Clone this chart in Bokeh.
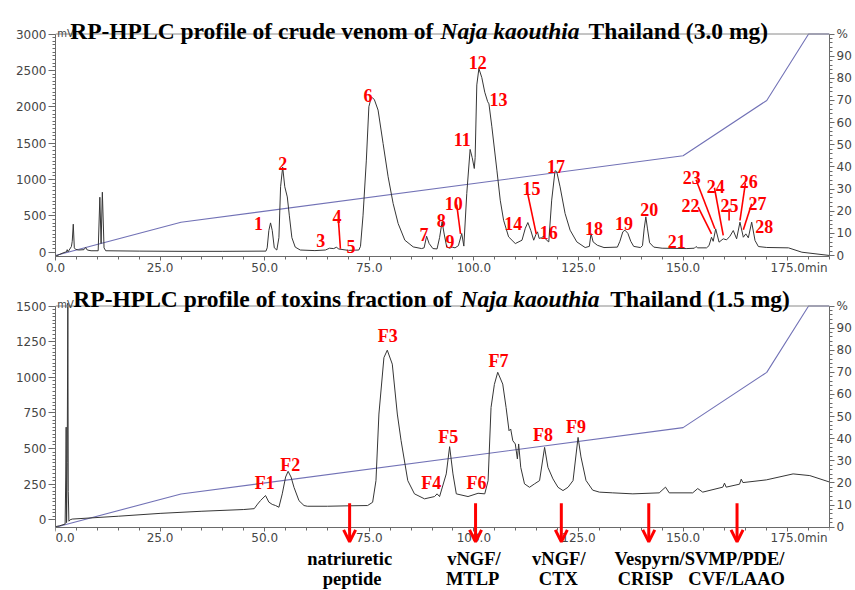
from bokeh.plotting import figure
from bokeh.models import (Range1d, LinearAxis, FixedTicker, NumeralTickFormatter, Label, Arrow, OpenHead, Span)
from bokeh.layouts import column
from bokeh.embed import file_html
from bokeh.resources import INLINE
from bokeh.core.properties import value

# ---------------- data ----------------
top_t = [0.0, 1.0, 2.0, 2.6, 2.8, 3.0, 3.8, 4.0, 4.25, 4.5, 4.8, 5.5, 6.8, 7.2, 7.6, 8.5, 10.2, 10.6, 10.9, 11.2,
         11.6, 12.0, 20.0, 30.0, 40.0, 50.3, 50.6, 51.0, 51.4, 51.8, 52.3, 52.9, 53.4, 53.8, 54.3, 54.8, 55.4, 55.9,
         56.5, 57.3, 58.5, 62.0, 64.5, 65.5, 66.5, 67.2, 67.6, 70.0, 72.5, 72.9, 73.5, 74.3, 74.9, 75.5, 76.2, 77.1,
         78.3, 79.5, 80.7, 81.9, 83.5, 85.5, 87.5, 88.1, 88.7, 89.3, 90.2, 91.2, 91.8, 92.4, 92.9, 93.5, 94.2, 94.8,
         95.5, 96.3, 97.1, 97.6, 98.3, 99.1, 99.6, 100.1, 100.3, 100.7, 101.2, 101.9, 102.6, 103.3, 103.6, 104.3,
         105.5, 106.3, 107.1, 108.3, 109.9, 111.5, 112.3, 112.9, 113.6, 114.3, 114.8, 115.2, 115.6, 116.2, 116.7,
         117.3, 117.9, 118.6, 119.4, 119.8, 120.6, 121.8, 123.0, 124.6, 126.6, 127.6, 128.0, 128.5, 129.5, 131.1,
         134.3, 134.9, 135.6, 136.1, 136.8, 137.5, 138.2, 139.8, 140.3, 140.7, 141.1, 141.5, 142.0, 143.0, 145.0,
         150.9, 152.7, 153.1, 153.5, 155.6, 156.2, 156.8, 157.2, 157.8, 158.6, 159.6, 160.4, 161.2, 162.0, 162.8,
         163.6, 164.4, 165.0, 165.6, 166.4, 167.2, 168.0, 170.0, 175.2, 178.4, 185.0]
top_mv = [-55, -30, -5, 5, 35, 5, 78, 150, 385, 60, 40, 30, 35, 65, 30, 20, 20, 756, 120, 825,
          60, 20, 15, 12, 12, 15, 60, 300, 403, 300, 60, 30, 200, 900, 1170, 900, 760, 500,
          200, 70, 30, 22, 30, 55, 50, 70, 45, 25, 30, 80, 500, 1266, 2000, 2135, 2100, 1954,
          1495, 1037, 670, 394, 165, 73, 50, 60, 220, 120, 50, 45, 200, 417, 250, 73, 55, 70,
          60, 90, 257, 84, 807, 1413, 1300, 1151, 1300, 2300, 2525, 2400, 2200, 2069, 2040, 1724,
          1128, 715, 440, 211, 119, 165, 330, 408, 300, 165, 240, 280, 190, 200, 220,
          170, 142, 716, 1120, 1110, 899, 532, 303, 142, 64, 80, 257, 142, 96, 64,
          70, 150, 280, 303, 260, 150, 80, 64, 90, 320, 486, 320, 130, 70, 55,
          50, 55, 78, 60, 60, 90, 206, 150, 321, 138, 184, 170, 220, 298, 184,
          413, 206, 252, 198, 413, 161, 78, 65, 60, 0, -45]

bot_t = [0.0, 1.0, 2.3, 2.45, 2.55, 2.65, 2.8, 2.95, 3.05, 3.2, 3.5, 4.0, 15.0, 25.0, 35.0, 45.0, 47.5, 48.3, 49.0,
         50.2, 51.0, 51.8, 52.6, 53.4, 54.2, 55.0, 55.6, 56.3, 57.0, 58.2, 59.4, 60.2, 65.0, 70.0, 74.6, 75.8, 76.6,
         77.3, 78.5, 79.3, 80.5, 81.7, 82.6, 84.2, 85.8, 88.2, 90.6, 91.2, 91.8, 93.4, 94.2, 95.0, 95.8, 98.6, 101.0,
         102.6, 103.4, 104.1, 104.9, 105.7, 106.9, 107.7, 108.4, 108.8, 109.3, 109.9, 110.4, 110.7, 111.2, 112.1,
         113.3, 114.5, 115.7, 116.9, 117.7, 118.9, 120.1, 121.3, 122.5, 123.7, 124.9, 125.6, 126.8, 128.4, 130.0,
         133.2, 138.0, 144.3, 145.8, 146.7, 152.3, 153.5, 154.7, 159.5, 159.9, 160.3, 163.5, 163.9, 164.3, 169.9,
         176.3, 180.3, 185.0]
bot_mv = [-48, -42, -30, 300, 650, -20, 400, 1520, 200, -10, 0, 5, 25, 45, 60, 72, 78, 110, 135,
          170, 124, 108, 100, 88, 182, 300, 340, 300, 228, 134, 100, 95, 95, 98, 100, 123, 275,
          742, 1138, 1190, 1092, 742, 555, 275, 182, 147, 163, 182, 163, 322, 513, 322, 182, 163, 186,
          182, 275, 788, 950, 1035, 952, 788, 625, 637, 555, 532, 427, 532, 368, 252,
          228, 252, 275, 508, 368, 287, 228, 205, 228, 275, 578, 441, 276, 208, 194,
          189, 182, 189, 229, 189, 189, 219, 194, 229, 257, 229, 250, 285, 261, 280,
          322, 310, 265]

grad_t = [0, 30, 150, 170, 180, 185]
grad_pct = [0, 15, 45, 70, 100, 100]

top_labels = [str(i) for i in range(1, 29)]
top_label_t = [48.5, 54.3, 63.4, 67.3, 70.6, 74.7, 88.1, 92.2, 94.3, 95.2, 97.2, 100.9, 105.9, 109.4, 113.8,
               117.9, 119.6, 128.7, 135.9, 141.9, 148.5, 151.8, 152.1, 157.8, 161.1, 165.7, 167.8, 169.4]
top_label_mv = [395, 1220, 161, 491, 78, 2155, 243, 436, 154, 674, 1546, 2613, 2096, 399, 872,
                275, 1178, 322, 391, 583, 151, 642, 1031, 903, 642, 976, 674, 353]

# leader lines for labels 4, 10, 15, 22, 23, 24, 25, 26, 27
lead_t0 = [67.6, 95.9, 112.7, 153.6, 153.1, 157.5, 161.0, 164.9, 166.4]
lead_mv0 = [459, 656, 848, 619, 996, 886, 597, 949, 666]
lead_t1 = [68.1, 96.8, 114.9, 156.8, 157.6, 159.6, 161.0, 163.6, 164.4]
lead_mv1 = [47, 253, 253, 253, 322, 230, 436, 436, 308]

bot_labels = ["F1", "F2", "F3", "F4", "F5", "F6", "F7", "F8", "F9"]
bot_label_t = [50.0, 56.1, 79.4, 89.8, 93.9, 100.6, 105.9, 116.5, 124.4]
bot_label_mv = [256, 387, 1290, 259, 578, 256, 1115, 597, 648]

arrow_t = [70.3, 100.4, 120.9, 141.8, 162.9]
note1_text = ["natriuretic", "vNGF/", "vNGF/", "Vespyrn/SVMP/PDE/"]
note1_t = [70.3, 100.0, 120.3, 153.9]
note2_text = ["peptide", "MTLP", "CTX", "CRISP", "CVF/LAAO"]
note2_t = [70.9, 99.7, 120.2, 141.0, 162.8]

x_ticks = [0, 25, 50, 75, 100, 125, 150, 175]

# ---------------- styling / geometry ----------------
TRACE = "#363636"
GRAD = "#7272b6"
AXC = "#6a6a6a"
SERIF = "Liberation Serif"
W_LEFT, FRAME_W, W_RIGHT = 55, 774, 26
NB = "\u00a0"


def style_axis(ax, tick_out=6, standoff=2):
    ax.major_label_text_font = "DejaVu Sans"
    ax.major_label_text_font_size = "12px"
    ax.major_label_text_color = "#454545"
    ax.axis_line_color = AXC
    ax.major_tick_line_color = AXC
    ax.minor_tick_line_color = AXC
    ax.major_tick_in = 0
    ax.minor_tick_in = 0
    ax.major_tick_out = tick_out
    ax.minor_tick_out = 3
    ax.major_label_standoff = standoff


def make_panel(frame_h, ytop_row, ytop_val, axis_row, axis_val, pct0_row, pct100_row,
               ystep, yminor, bottom_border):
    """Frame rows 0..frame_h. mV value ytop_val sits at row ytop_row, the time axis (value axis_val)
    at row axis_row; the % scale has 0 at pct0_row and 100 at pct100_row."""
    mv_per_px = (ytop_val - axis_val) / (axis_row - ytop_row)
    y_hi = ytop_val + ytop_row * mv_per_px
    y_lo = axis_val - (frame_h - axis_row) * mv_per_px
    pct_per_px = 100.0 / (pct0_row - pct100_row)
    pct_hi = 100 + pct100_row * pct_per_px
    pct_lo = -(frame_h - pct0_row) * pct_per_px
    pct_axis = -(axis_row - pct0_row) * pct_per_px
    p = figure(frame_width=FRAME_W, frame_height=frame_h, min_border_left=W_LEFT, min_border_right=W_RIGHT,
               min_border_top=0, min_border_bottom=bottom_border,
               x_range=Range1d(0, 185), y_range=Range1d(y_lo, y_hi),
               output_backend="svg", toolbar_location=None)
    p.grid.visible = False
    p.outline_line_color = None
    xa = p.xaxis[0]
    xa.ticker = FixedTicker(ticks=x_ticks, minor_ticks=list(range(0, 186, 5)))
    xa.formatter = NumeralTickFormatter(format="0.0")
    overrides = {175: NB * 6 + "175.0min"}
    if axis_row < frame_h:
        xa.fixed_location = axis_val
        overrides[0] = NB * 5 + "0.0"   # keep the first label inside the plotting area
    xa.major_label_overrides = overrides
    ya = p.yaxis[0]
    ya.ticker = FixedTicker(ticks=list(range(0, ytop_val + 1, ystep)),
                            minor_ticks=list(range(0, ytop_val + 1, yminor)))
    ya.bounds = (axis_val, ytop_val)
    style_axis(xa, 4, 0)
    style_axis(ya, 7, 2)
    p.extra_y_ranges = {"pct": Range1d(pct_lo, pct_hi)}
    ax = LinearAxis(y_range_name="pct", bounds=(pct_axis, 100),
                    ticker=FixedTicker(ticks=list(range(0, 101, 10)), minor_ticks=list(range(0, 101, 2))),
                    major_label_overrides={100: "%"})
    style_axis(ax, 5, 2)
    p.add_layout(ax, "right")
    p.add_layout(Span(location=ytop_val, dimension="width", line_color="#8a8a8a", line_width=1))
    return p


def unit_label(p, y):
    p.add_layout(Label(x=0.4, y=y, text="mV", text_font="DejaVu Sans", text_font_size="10px",
                       text_color="#454545", text_align="left", text_baseline="alphabetic"))


def title(p, y, a_right, b_left, c_left, part_a, part_c):
    common = dict(y=y, text_font=SERIF, text_font_size="23.5px", text_color="black",
                  text_baseline="alphabetic")
    p.add_layout(Label(x=a_right, text=part_a, text_font_style="bold", text_align="right", **common))
    p.add_layout(Label(x=b_left, text="Naja kaouthia", text_font_style="bold italic", text_align="left", **common))
    p.add_layout(Label(x=c_left, text=part_c, text_font_style="bold", text_align="left", **common))


# ---------------- top panel ----------------
p1 = make_panel(256, 33.5, 3000, 256, -59, 255, 33.5, 500, 50, 21)
p1.line(grad_t, grad_pct, y_range_name="pct", line_color=GRAD, line_width=1.1)
p1.line(top_t, top_mv, line_color=TRACE, line_width=1.0)
p1.segment(x0=lead_t0, y0=lead_mv0, x1=lead_t1, y1=lead_mv1, line_color="red", line_width=1.6)
p1.text(x=top_label_t, y=top_label_mv, text=top_labels, text_font=value(SERIF), text_font_style="bold",
        text_font_size="18px", text_color="red", text_align="center", text_baseline="alphabetic")
unit_label(p1, 3007)
title(p1, 3041, 90.3, 92.0, 127.4, "RP-HPLC profile of crude venom of", "Thailand (3.0 mg)")

# ---------------- bottom panel (frame reaches the page bottom; time axis fixed at -52 mV) ----------------
p2 = make_panel(313, 28.5, 1500, 249.7, -52, 249.7, 28.5, 250, 25, 0)
p2.line(grad_t, grad_pct, y_range_name="pct", line_color=GRAD, line_width=1.1)
p2.line(bot_t, bot_mv, line_color=TRACE, line_width=1.0)
p2.text(x=bot_label_t, y=bot_label_mv, text=bot_labels, text_font=value(SERIF), text_font_style="bold",
        text_font_size="18px", text_color="red", text_align="center", text_baseline="alphabetic")
unit_label(p2, 1510)
title(p2, 1549, 94.8, 96.8, 132.6, "RP-HPLC profile of toxins fraction of", "Thailand (1.5 mg)")

for t in arrow_t:
    p2.add_layout(Arrow(x_start=t, y_start=116, x_end=t, y_end=-155, line_color="red", line_width=3,
                        end=OpenHead(size=12, line_color="red", line_width=3)))

p2.text(x=note1_t, y=[-275] * len(note1_t), text=note1_text, text_font=value(SERIF), text_font_style="bold",
        text_font_size="18.5px", text_color="black", text_align="center", text_baseline="alphabetic")
p2.text(x=note2_t, y=[-415] * len(note2_t), text=note2_text, text_font=value(SERIF), text_font_style="bold",
        text_font_size="18.5px", text_color="black", text_align="center", text_baseline="alphabetic")

layout = column(p1, p2, spacing=0)
open("out.html", "w").write(file_html(layout, INLINE))
